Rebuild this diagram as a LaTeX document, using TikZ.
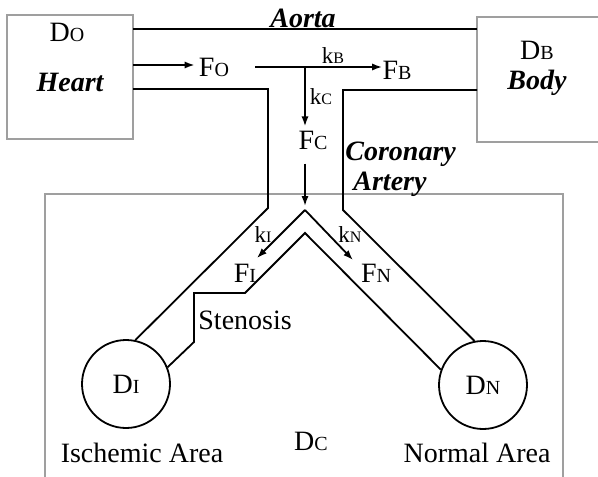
\documentclass[tikz,border=0pt]{standalone}
\usepackage{fontspec}
\setmainfont{Liberation Serif}
\usetikzlibrary{arrows.meta}

\newcommand{\capsub}[2]{#1{\fontsize{10}{11}\selectfont #2}}
\newcommand{\ratesub}[1]{k{\fontsize{8}{9}\selectfont #1}}

\begin{document}
\begin{tikzpicture}[x=0.5pt, y=-0.5pt,
            every node/.style={inner sep=0pt, font=\fontsize{14}{16}\selectfont},
            box/.style={draw=gray!75, line width=0.7pt},
            vessel/.style={line width=0.9pt},
            flow/.style={line width=0.9pt, -{Latex[length=5pt,width=3.6pt]}},
            rate/.style={font=\fontsize{11.5}{13}\selectfont},
            organ/.style={font=\fontsize{14}{15}\selectfont\bfseries\itshape},
            area/.style={font=\fontsize{14}{16}\selectfont},
            ]
            \useasboundingbox (0,0) rectangle (598,476);

            % compartments
            \node[box, minimum width=63pt, minimum height=62pt] (heart) at (70,77) {};
            \node[box, minimum width=71.5pt, minimum height=62.5pt] (body) at (548.5,79.5) {};
            \node[box, minimum width=259pt, minimum height=148pt] (tissue) at (304,342) {};
            \node (Do) at (67,32) {\capsub{D}{O}};
            \node[organ] (heartname) at (70,82) {Heart};
            \node (Db) at (537,50) {\capsub{D}{B}};
            \node[organ] (bodyname) at (537,83) {Body};
            \node (Dc) at (311,441) {\capsub{D}{C}};

            % vessels
            \node[organ, anchor=south] (aorta) at (303,28) {Aorta};
            \draw[vessel] (133,29) -- (477,29);
            \node[circle, draw, vessel, minimum size=44pt] (DI) at (126,384) {\capsub{D}{I}};
            \node[circle, draw, vessel, minimum size=44pt] (DN) at (483,385) {\capsub{D}{N}};
            \draw[vessel] (133,89) -- (268,89) -- (268,208) -- (DI.78);
            \draw[vessel] (477,90) -- (343,90) -- (343,210) -- (DN.101);
            \draw[vessel] (DI.22) -- (194,342) -- (194,293) -- (245,293)
                -- (305,233) -- (DN.160);
            \node[organ, align=left, anchor=north west] (artery) at (345,142)
                {Coronary\\\hspace{4pt}Artery};
            \node[anchor=west, area] (stenosis) at (198,320) {Stenosis};
            \node[area] (ischemic) at (142,453) {Ischemic Area};
            \node[area] (normal) at (477,453) {Normal Area};

            % flows
            \coordinate (outlet) at (133,65);
            \coordinate (split) at (255,67);
            \coordinate (branch) at (305,67);
            \coordinate (apex) at (305,210);
            \coordinate (tipI) at (257,258);
            \coordinate (tipN) at (353,260);
            \node (Fo) at (214,67) {\capsub{F}{O}};
            \node (Fb) at (397,70) {\capsub{F}{B}};
            \node (Fc) at (313,140) {\capsub{F}{C}};
            \node (Fi) at (245,273) {\capsub{F}{I}};
            \node (Fn) at (376,273) {\capsub{F}{N}};
            \node[rate] (kb) at (333,56) {\ratesub{B}};
            \node[rate] (kc) at (321,97) {\ratesub{C}};
            \node[rate] (ki) at (263,235) {\ratesub{I}};
            \node[rate] (kn) at (350,235) {\ratesub{N}};
            \draw[flow, shorten >=2pt] (outlet) -- (outlet -| Fo.west);
            \draw[flow] (split) -- (split -| Fb.west);
            \draw[flow, shorten >=2pt] (branch) -- (branch |- Fc.north);
            \draw[flow, shorten <=7pt, shorten >=2pt] (branch |- Fc.south) -- (apex);
            \draw[flow] (apex) -- (tipI);
            \draw[flow] (apex) -- (tipN);
        \end{tikzpicture}
\end{document}
